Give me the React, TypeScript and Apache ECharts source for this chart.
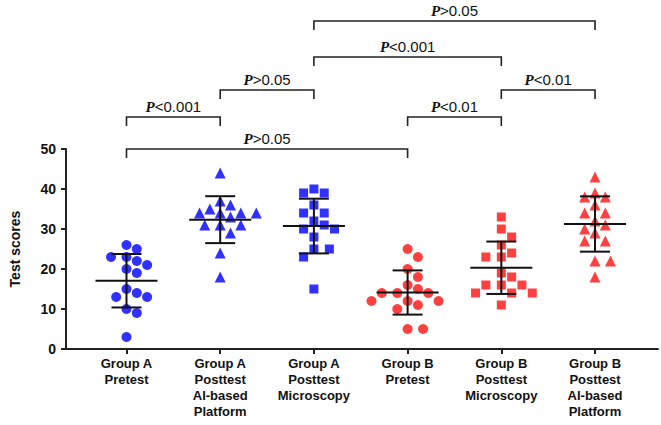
import React, { useEffect, useRef } from "react";
import * as echarts from "echarts";

// ---------- data ----------
const categories = [
  "Group A\nPretest",
  "Group A\nPosttest\nAI-based\nPlatform",
  "Group A\nPosttest\nMicroscopy",
  "Group B\nPretest",
  "Group B\nPosttest\nMicroscopy",
  "Group B\nPosttest\nAI-based\nPlatform",
];
const groupAPretest = [26, 25, 23, 23, 22, 21, 20, 19, 15, 14, 13, 13, 10, 9, 3];
const groupAPostAI = [44, 37, 36, 35, 34, 34, 34, 34, 33, 31, 31, 31, 29, 24, 18];
const groupAPostMicro = [40, 39, 39, 36, 34, 34, 32, 31, 30, 30, 28, 25, 25, 23, 15];
const groupBPretest = [25, 23, 20, 18, 16, 15, 14, 14, 14, 12, 12, 12, 11, 10, 5, 5];
const groupBPostMicro = [33, 30, 28, 26, 24, 23, 23, 19, 18, 16, 16, 16, 14, 14, 14, 11];
const groupBPostAI = [43, 39, 38, 38, 36, 34, 34, 32, 31, 30, 29, 27, 27, 22, 22, 18];
const yTicks = { min: 0, max: 50, interval: 10 };
// comparisons between groups
const compFrom = [2, 2, 1, 4, 0, 3, 0];
const compTo = [5, 4, 2, 5, 1, 4, 3];
const compTier = [4, 3, 2, 2, 1, 1, 0];
const compText = [">0.05", "<0.001", ">0.05", "<0.01", "<0.001", "<0.01", ">0.05"];

// ---------- layout / style ----------
const W = 661;
const H = 425;
const GRID = { left: 61, right: 3, top: 149, height: 200 };
const X_MIN = -0.6455;
const X_MAX = 5.672;
const TIER_PX = [0, 32, 59, 92, 128];
const BLUE = "#1f1fff";
const RED = "#ff3030";
const groups = [
  { values: groupAPretest, symbol: "circle", size: 10, color: BLUE },
  { values: groupAPostAI, symbol: "triangle", size: 11, color: BLUE },
  { values: groupAPostMicro, symbol: "rect", size: 9, color: BLUE },
  { values: groupBPretest, symbol: "circle", size: 10, color: RED },
  { values: groupBPostMicro, symbol: "rect", size: 9, color: RED },
  { values: groupBPostAI, symbol: "triangle", size: 11, color: RED },
];

const pxPerX = (W - GRID.left - GRID.right) / (X_MAX - X_MIN);
const pxPerY = GRID.height / (yTicks.max - yTicks.min);

// simple beeswarm: place each point at nearest free horizontal slot
function swarm(values: number[], d: number): number[] {
  const step = 5.2;
  const order = values.map((_, i) => i).sort((a, b) => values[b] - values[a]);
  const placed: { x: number; y: number }[] = [];
  const off = new Array(values.length).fill(0);
  for (const i of order) {
    const y = values[i] * pxPerY;
    for (let n = 0; n < 40; n++) {
      const k = n === 0 ? 0 : n % 2 === 1 ? (n + 1) / 2 : -n / 2;
      const x = k * step;
      const hit = placed.some((p) => (p.x - x) ** 2 + (p.y - y) ** 2 < d * d);
      if (!hit) {
        placed.push({ x, y });
        off[i] = x / pxPerX;
        break;
      }
    }
  }
  return off;
}

function meanSd(v: number[]) {
  const m = v.reduce((a, b) => a + b, 0) / v.length;
  const s = Math.sqrt(v.reduce((a, b) => a + (b - m) ** 2, 0) / (v.length - 1));
  return [m, s];
}

const FONT = "'Liberation Sans', Arial, sans-serif";

function buildOption(): any {
  const scatterSeries = groups.map((g, gi) => {
    const offs = swarm(g.values, 11);
    return {
      type: "scatter",
      symbol: g.symbol,
      symbolSize: g.size,
      itemStyle: { color: g.color, opacity: 0.92 },
      data: g.values.map((v, i) => [gi + offs[i], v]),
      z: 2,
    };
  });

  const errData = groups.map((g, gi) => {
    const [m, s] = meanSd(g.values);
    return [gi, m, s];
  });

  const errorSeries = {
    type: "custom",
    z: 5,
    data: errData,
    encode: { x: 0, y: 1 },
    renderItem: (params: any, api: any) => {
      const x = api.value(0);
      const m = api.value(1);
      const s = api.value(2);
      const c = api.coord([x, m]);
      const t = api.coord([x, m + s]);
      const b = api.coord([x, m - s]);
      const st = { stroke: "#111", lineWidth: 2, fill: null };
      return {
        type: "group",
        children: [
          { type: "line", shape: { x1: c[0] - 31, y1: c[1], x2: c[0] + 31, y2: c[1] }, style: st },
          { type: "line", shape: { x1: c[0], y1: t[1], x2: c[0], y2: b[1] }, style: st },
          { type: "line", shape: { x1: c[0] - 15, y1: t[1], x2: c[0] + 15, y2: t[1] }, style: st },
          { type: "line", shape: { x1: c[0] - 15, y1: b[1], x2: c[0] + 15, y2: b[1] }, style: st },
        ],
      };
    },
  };

  const bracketSeries = {
    type: "custom",
    clip: false,
    z: 6,
    data: compFrom.map((f, i) => [f, compTo[i], yTicks.max, compTier[i], i]),
    encode: { x: [0, 1], y: 2 },
    renderItem: (params: any, api: any) => {
      const f = api.value(0);
      const t = api.value(1);
      const tier = api.value(3);
      const idx = api.value(4);
      const p1 = api.coord([f, yTicks.max]);
      const p2 = api.coord([t, yTicks.max]);
      const yl = p1[1] - TIER_PX[tier];
      return {
        type: "group",
        children: [
          {
            type: "polyline",
            shape: { points: [[p1[0], yl + 9], [p1[0], yl], [p2[0], yl], [p2[0], yl + 9]] },
            style: { stroke: "#222", lineWidth: 1.6, fill: null },
          },
          {
            type: "text",
            style: {
              x: (p1[0] + p2[0]) / 2,
              y: yl - 3,
              align: "center",
              verticalAlign: "bottom",
              text: "{p|P}{t|" + compText[idx] + "}",
              rich: {
                p: {
                  fontFamily: "'Liberation Serif', 'Times New Roman', serif",
                  fontStyle: "italic",
                  fontWeight: "bold",
                  fontSize: 15,
                  fill: "#111",
                },
                t: { fontFamily: FONT, fontSize: 15, fill: "#111" },
              },
            },
          },
        ],
      };
    },
  };

  return {
    animation: false,
    backgroundColor: "#fff",
    grid: { left: GRID.left, right: GRID.right, top: GRID.top, height: GRID.height, containLabel: false },
    xAxis: {
      type: "value",
      min: X_MIN,
      max: X_MAX,
      splitLine: { show: false },
      axisLine: { onZero: false, lineStyle: { color: "#222", width: 2 } },
      axisTick: {
        show: true,
        customValues: [0, 1, 2, 3, 4, 5],
        length: 5,
        lineStyle: { color: "#222", width: 2 },
      },
      axisLabel: {
        customValues: [0, 1, 2, 3, 4, 5],
        formatter: (v: number) => categories[Math.round(v)] ?? "",
        fontFamily: FONT,
        fontWeight: "bold",
        fontSize: 13,
        lineHeight: 16,
        color: "#111",
        margin: 6,
      },
    },
    yAxis: {
      type: "value",
      min: yTicks.min,
      max: yTicks.max,
      interval: yTicks.interval,
      name: "Test scores",
      nameLocation: "middle",
      nameGap: 44,
      nameTextStyle: { fontFamily: FONT, fontWeight: "bold", fontSize: 14, color: "#111" },
      splitLine: { show: false },
      axisLine: { show: true, onZero: false, lineStyle: { color: "#222", width: 2 } },
      axisTick: { show: true, length: 5, lineStyle: { color: "#222", width: 2 } },
      axisLabel: { fontFamily: FONT, fontWeight: "bold", fontSize: 14, color: "#111", margin: 10 },
    },
    series: [...scatterSeries, errorSeries, bracketSeries],
  };
}

export default function App() {
  const ref = useRef<HTMLDivElement>(null);
  useEffect(() => {
    document.body.style.margin = "0";
    const chart = echarts.init(ref.current!, null, { renderer: "svg" });
    chart.setOption(buildOption());
    return () => chart.dispose();
  }, []);
  return <div ref={ref} style={{ width: W, height: H }} />;
}
